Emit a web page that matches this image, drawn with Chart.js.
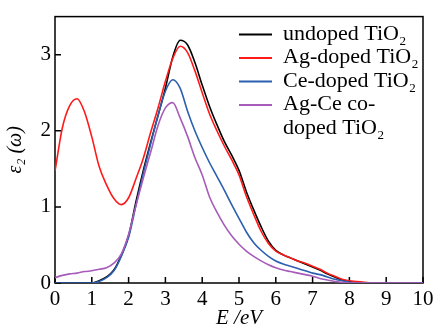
<!DOCTYPE html>
<html>
<head>
<meta charset="utf-8">
<script src="https://cdn.jsdelivr.net/npm/chart.js@4.4.1/dist/chart.umd.min.js"></script>
<style>
html,body{margin:0;padding:0;background:#fff;}
#wrap{width:434px;height:331px;position:relative;}
</style>
</head>
<body>
<div id="wrap"><canvas id="c"></canvas></div>
<script>
// Photon energy grid (eV)
const energy = [0,0.2,0.4,0.6,0.8,1,1.2,1.4,1.6,1.8,2,2.2,2.4,2.6,2.8,3,3.2,3.4,3.6,3.8,4,4.2,4.4,4.6,4.8,5,5.2,5.4,5.6,5.8,6,6.2,6.4,6.6,6.8,7,7.2,7.4,7.6,7.8,8,8.2,8.4,8.6,8.8,9,9.2,9.4,9.6,9.8,10];
// epsilon_2 values
const undoped = [0,0,0,0,0,0,0.03,0.08,0.17,0.36,0.62,1.07,1.48,1.85,2.2,2.56,2.97,3.19,3.13,2.9,2.6,2.32,2.08,1.86,1.68,1.48,1.2,0.96,0.74,0.55,0.43,0.37,0.33,0.29,0.25,0.21,0.17,0.12,0.08,0.04,0.02,0,0,0,0,0,0,0,0,0,0];
const agDoped = [1.47,2.04,2.33,2.42,2.25,1.92,1.53,1.29,1.11,1.03,1.12,1.37,1.64,1.98,2.3,2.65,2.95,3.11,3.03,2.79,2.5,2.22,2.0,1.8,1.62,1.42,1.14,0.9,0.68,0.52,0.42,0.37,0.33,0.29,0.26,0.22,0.18,0.13,0.09,0.05,0.03,0.02,0.01,0,0,0,0,0,0,0,0];
const ceDoped = [0,0,0,0,0,0,0.02,0.07,0.16,0.35,0.6,1.02,1.44,1.83,2.2,2.52,2.67,2.56,2.26,2.0,1.78,1.58,1.4,1.22,1.03,0.85,0.67,0.53,0.43,0.35,0.29,0.25,0.22,0.19,0.16,0.13,0.11,0.08,0.05,0.03,0.01,0,0,0,0,0,0,0,0,0,0];
const agCeCodoped = [0.07,0.1,0.12,0.13,0.15,0.16,0.18,0.2,0.26,0.38,0.64,1.02,1.38,1.72,2.07,2.3,2.37,2.17,1.93,1.65,1.42,1.13,0.93,0.76,0.62,0.51,0.42,0.35,0.29,0.24,0.2,0.17,0.15,0.13,0.11,0.09,0.06,0.04,0.02,0.01,0,0,0,0,0,0,0,0,0,0,0];

const seriesNames = ['undoped TiO₂','Ag-doped TiO₂','Ce-doped TiO₂','Ag-Ce co-doped TiO₂'];
const legendLines = [['undoped TiO₂'],['Ag-doped TiO₂'],['Ce-doped TiO₂'],['Ag-Ce co-','doped TiO₂']];
const seriesColors = ['#000000','#ff1a1a','#2b5fb0','#a65cb8'];
const xTickValues = [0,1,2,3,4,5,6,7,8,9,10];
const yTickValues = [0,1,2,3];

const FONT = "'Liberation Serif', 'Times New Roman', serif";

function pts(vals){ return energy.map((e,i)=>({x:e,y:vals[i]})); }
const allVals = [undoped, agDoped, ceDoped, agCeCodoped];

const frame = {
  id:'frame',
  beforeDatasetsDraw(chart){
    const {ctx, chartArea:a, scales:{x,y}} = chart;
    ctx.save();
    ctx.strokeStyle='#000'; ctx.lineWidth=1.5;
    ctx.strokeRect(a.left,a.top,a.right-a.left,a.bottom-a.top);
    ctx.beginPath();
    x.ticks.forEach(t=>{const p=x.getPixelForValue(t.value); ctx.moveTo(p,a.bottom); ctx.lineTo(p,a.bottom-6);});
    y.ticks.forEach(t=>{const p=y.getPixelForValue(t.value); ctx.moveTo(a.left,p); ctx.lineTo(a.left+6,p);});
    ctx.stroke();
    ctx.restore();
  }
};

function drawSubText(ctx, txt, x, y, size){
  const parts = txt.split('₂');
  let cx = x;
  parts.forEach((p,i)=>{
    ctx.font = size+'px '+FONT;
    ctx.fillText(p, cx, y);
    cx += ctx.measureText(p).width;
    if(i < parts.length-1){
      ctx.font = Math.round(size*0.6)+'px '+FONT;
      ctx.fillText('2', cx+0.5, y+5);
      cx += ctx.measureText('2').width+0.5;
    }
  });
}

const legendPlugin = {
  id:'customLegend',
  afterDraw(chart){
    const ctx = chart.ctx;
    const a = chart.chartArea;
    const lineX0 = a.left + 184, lineX1 = a.left + 217, textX = a.left + 228;
    const rowH = 23.5;
    let baseY = a.top + 23;
    ctx.save();
    ctx.textBaseline='alphabetic';
    ctx.fillStyle='#000';
    chart.data.datasets.forEach((ds,i)=>{
      ctx.strokeStyle = ds.borderColor; ctx.lineWidth = 2;
      ctx.beginPath(); ctx.moveTo(lineX0, baseY-5); ctx.lineTo(lineX1, baseY-5); ctx.stroke();
      ctx.fillStyle='#000';
      legendLines[i].forEach((ln,j)=>{ drawSubText(ctx, ln, textX, baseY + j*rowH, 22); });
      baseY += rowH*legendLines[i].length;
    });
    ctx.restore();
  }
};

new Chart(document.getElementById('c'), {
  type:'line',
  data:{
    datasets: allVals.map((v,i)=>({
      label: seriesNames[i],
      data: pts(v),
      borderColor: seriesColors[i],
      backgroundColor: seriesColors[i],
      borderWidth: 1.6,
      pointRadius: 0,
      cubicInterpolationMode: 'monotone',
      fill:false,
      order: 4-i
    }))
  },
  options:{
    responsive:true,
    maintainAspectRatio:false,
    animation:false,
    layout:{padding:{top:9,right:0,left:0,bottom:0}},
    plugins:{legend:{display:false},tooltip:{enabled:false}},
    scales:{
      x:{
        type:'linear', min:0, max:10,
        afterBuildTicks(s){ s.ticks = xTickValues.map(v=>({value:v})); },
        afterFit(s){ s.height = 48; s.paddingRight = 11; },
        grid:{display:false, drawTicks:false},
        border:{display:false},
        ticks:{font:{family:FONT,size:21}, color:'#000', padding:4, maxRotation:0, autoSkip:false},
        title:{display:true, text:'E /eV', font:{family:FONT,size:21,style:'italic'}, color:'#000', padding:{top:0,bottom:0}}
      },
      y:{
        type:'linear', min:0, max:3.5,
        afterBuildTicks(s){ s.ticks = yTickValues.map(v=>({value:v})); },
        afterFit(s){ s.width = 55; },
        grid:{display:false, drawTicks:false},
        border:{display:false},
        ticks:{font:{family:FONT,size:21}, color:'#000', padding:4},
        title:{display:true, text:'ε₂ (ω)', font:{family:FONT,size:20,style:'italic'}, color:'#000', padding:{top:4,bottom:0}}
      }
    }
  },
  plugins:[frame, legendPlugin]
});
</script>
</body>
</html>
